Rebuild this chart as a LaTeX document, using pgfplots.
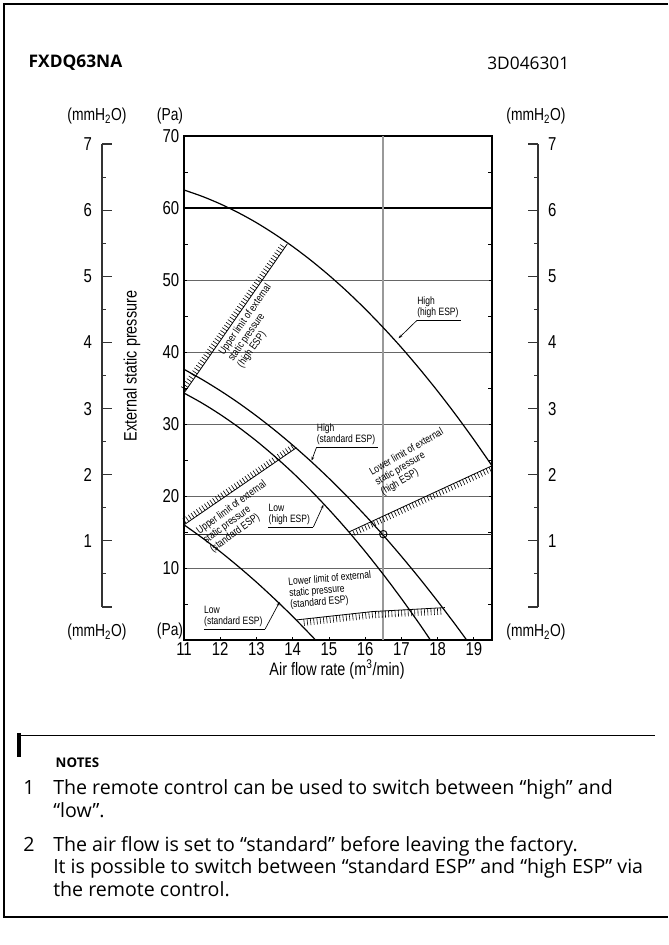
\documentclass[border=0pt]{standalone}
\usepackage{fontspec}
\setmainfont{Open Sans}
\newfontfamily\cond[FakeStretch=0.8]{Liberation Sans}
\usepackage{pgfplots}
\pgfplotsset{compat=1.18}
\usetikzlibrary{arrows.meta}
\tikzset{
 hatch/.style={black,line width=4.2pt,dash pattern=on 0.45pt off 2pt},
 small/.style={font=\cond\fontsize{8}{8.5}\selectfont,inner sep=0pt},
 call/.style={-{Stealth[length=3pt,width=2pt]},line width=0.5pt}
}
\begin{document}
\begin{tikzpicture}[x=0.75pt,y=-0.75pt]
\useasboundingbox (0,0) rectangle (668,945);
\draw[line width=1.1pt] (668,4) -- (4,4) -- (4,917) -- (668,917);

\node[anchor=west,font=\bfseries\fontsize{13}{15}\selectfont] at (24,63) {FXDQ63NA};
\node[anchor=east,font=\fontsize{13}{15}\selectfont] at (574,63) {3D046301};

% left mmH2O scale
\begin{axis}[at={(76.5pt,-455.25pt)},anchor=south west,scale only axis,width=1pt,height=347.25pt,
  xmin=0,xmax=1,ymin=0,ymax=7,hide x axis,axis y line*=left,
  ytick={0,...,7},yticklabels={{},1,2,3,4,5,6,7},minor ytick={0.5,1.5,...,6.5},
  tick align=inside,major tick length=7.5pt,minor tick length=3pt,
  axis line style={black!80,line width=0.8pt},tick style={black!80,line width=0.8pt},
  tick label style={font=\cond\fontsize{14}{14}\selectfont},
  yticklabel style={xshift=-4pt}]
\addplot[draw=none] coordinates {(0,0)};
\end{axis}
% right mmH2O scale
\begin{axis}[at={(403.5pt,-455.25pt)},anchor=south east,scale only axis,width=1pt,height=347.25pt,
  xmin=0,xmax=1,ymin=0,ymax=7,hide x axis,axis y line*=right,
  ytick={0,...,7},yticklabels={{},1,2,3,4,5,6,7},minor ytick={0.5,1.5,...,6.5},
  tick align=inside,major tick length=7.5pt,minor tick length=3pt,
  axis line style={black!80,line width=0.8pt},tick style={black!80,line width=0.8pt},
  tick label style={font=\cond\fontsize{14}{14}\selectfont},
  yticklabel style={xshift=4pt}]
\addplot[draw=none] coordinates {(0,0)};
\end{axis}

% main chart
\begin{axis}[at={(138pt,-480pt)},anchor=south west,scale only axis,width=231pt,height=378pt,
  xmin=11,xmax=19.5,ymin=0,ymax=70,clip=false,
  xtick={11,...,19},xtick pos=bottom,
  ytick={0,10,...,70},yticklabels={{},10,20,30,40,50,60,70},yticklabel pos=left,
  minor ytick={5,15,...,65},
  tick align=inside,major tick length=2.5pt,minor tick length=3pt,
  tick style={black,line width=0.6pt},
  axis line style={black,line width=1pt},
  ymajorgrids,grid style={black!60,line width=0.6pt},
  tick label style={font=\cond\fontsize{14}{14}\selectfont},
  xticklabel style={yshift=1.5pt},
  /pgf/number format/assume math mode=true]

\addplot[black,line width=0.9pt] coordinates {(11,60) (19.5,60)};
\addplot[black!85,line width=0.6pt] coordinates {(11,14.7) (19.5,14.7)};
\addplot[black!40,line width=1.3pt] coordinates {(16.5,0) (16.5,70)};

% High (high ESP)
\addplot[black,line width=0.9pt,smooth] coordinates {
(11,62.5) (11.5,61.62) (12,60.57) (12.5,59.35) (13,57.96) (13.5,56.38) (14,54.65)
(14.5,52.74) (15,50.66) (15.5,48.41) (16,45.98) (16.5,43.38) (17,40.62) (17.5,37.67)
(18,34.56) (18.5,31.28) (19,27.82) (19.5,24.2)};
% High (standard ESP)
\addplot[black,line width=0.9pt,smooth] coordinates {
(11,37.6) (11.5,36.18) (12,34.63) (12.5,32.95) (13,31.12) (13.5,29.16) (14,27.06)
(14.5,24.83) (15,22.46) (15.5,19.95) (16,17.31) (16.5,14.54) (17,11.62) (17.5,8.57)
(18,5.38) (18.5,2.06) (18.8,0)};
% Low (high ESP)
\addplot[black,line width=0.9pt,smooth] coordinates {
(11,34.3) (11.5,32.90) (12,31.32) (12.5,29.57) (13,27.64) (13.5,25.52) (14,23.24)
(14.5,20.77) (15,18.12) (15.5,15.30) (16,12.29) (16.5,9.11) (17,5.75) (17.5,2.22) (17.8,0)};
% Low (standard ESP)
\addplot[black,line width=0.9pt,smooth] coordinates {
(11,16.0) (11.5,14.2) (12,12.27) (12.5,10.21) (13,8.03) (13.5,5.71) (14,3.27) (14.5,0.69) (14.63,0)};

% limit lines
\addplot[black,line width=0.6pt] coordinates {(11,34.3) (13.85,55.0)};
\addplot[black,line width=0.6pt] coordinates {(11,16.0) (14.1,26.7)};
\addplot[black,line width=0.6pt] coordinates {(15.55,15.0) (19.5,24.2)};
\addplot[black,line width=0.6pt] coordinates {(14.12,2.8) (16.2,3.95) (18.2,4.5)};
% hatching on the limit lines
\addplot[hatch,transform canvas={xshift=-1.81pt,yshift=1.25pt}] coordinates {(11.05,34.7) (13.8,54.6)};
\addplot[hatch,transform canvas={xshift=-1.24pt,yshift=1.82pt}] coordinates {(11.05,16.2) (14.05,26.5)};
\addplot[hatch,transform canvas={xshift=0.92pt,yshift=-2.0pt}] coordinates {(15.65,15.2) (19.45,24.1)};
\addplot[hatch,line width=5pt,transform canvas={xshift=0.2pt,yshift=-2.5pt}] coordinates {(14.3,2.9) (16.2,3.95) (18.1,4.45)};

% rated point
\addplot[only marks,mark=o,mark size=2.8pt,mark options={line width=0.7pt}] coordinates {(16.5,14.7)};

% limit labels
\node[small,align=left,rotate=55] at (axis cs:12.95,43.6) {Upper limit of external\\static pressure\\(high ESP)};
\node[small,align=left,rotate=36] at (axis cs:12.5,17.1) {Upper limit of external\\static pressure\\(standard ESP)};
\node[small,align=left,rotate=30] at (axis cs:17.3,24.7) {Lower limit of external\\static pressure\\(high ESP)};
\node[small,align=left,rotate=5] at (axis cs:15.05,6.9) {Lower limit of external\\static pressure\\(standard ESP)};

% callouts
\node[small,align=left,anchor=south west,yshift=1.5pt] at (axis cs:17.43,44.4) {High\\(high ESP)};
\draw[line width=0.5pt] (axis cs:17.43,44.4) -- (axis cs:18.65,44.4);
\draw[call] (axis cs:17.43,44.4) -- (axis cs:16.92,41.9);

\node[small,align=left,anchor=south west,yshift=1.5pt] at (axis cs:14.66,26.8) {High\\(standard ESP)};
\draw[line width=0.5pt] (axis cs:14.66,26.8) -- (axis cs:16.35,26.8);
\draw[call] (axis cs:14.66,26.8) -- (axis cs:14.52,24.9);

\node[small,align=left,anchor=south west,yshift=1.5pt] at (axis cs:13.33,15.7) {Low\\(high ESP)};
\draw[line width=0.5pt] (axis cs:13.33,15.7) -- (axis cs:14.57,15.7);
\draw[call] (axis cs:14.57,15.7) -- (axis cs:14.85,18.8);

\node[small,align=left,anchor=south west,yshift=1.5pt] at (axis cs:11.55,1.53) {Low\\(standard ESP)};
\draw[line width=0.5pt] (axis cs:11.55,1.53) -- (axis cs:13.24,1.53);
\draw[call] (axis cs:13.24,1.53) -- (axis cs:13.64,5.3);
\end{axis}

% axis texts
\node[font=\cond\fontsize{13}{13}\selectfont] at (170,116) {(Pa)};
\node[font=\cond\fontsize{13}{13}\selectfont] at (170,631) {(Pa)};
\node[font=\cond\fontsize{13}{13}\selectfont] at (97,116) {(mmH\textsubscript{2}O)};
\node[font=\cond\fontsize{13}{13}\selectfont] at (97,632) {(mmH\textsubscript{2}O)};
\node[font=\cond\fontsize{13}{13}\selectfont] at (536,116) {(mmH\textsubscript{2}O)};
\node[font=\cond\fontsize{13}{13}\selectfont] at (536,632) {(mmH\textsubscript{2}O)};
\node[font=\cond\fontsize{13.5}{13}\selectfont,rotate=90] at (132,366) {External static pressure};
\node[font=\cond\fontsize{13.5}{13}\selectfont] at (337,669) {Air flow rate (m\textsuperscript{3}/min)};

% notes
\fill (17,733) rectangle (21,757);
\draw[line width=0.6pt] (21,735) -- (655,735);
\node[anchor=west,font=\bfseries\fontsize{10}{11}\selectfont] at (51,763) {NOTES};
\begin{scope}[every node/.style={anchor=base west,font=\fontsize{14.7}{17}\selectfont,inner sep=0pt}]
\node at (23,794) {1};
\node at (53,794) {The remote control can be used to switch between “high” and};
\node at (53,817) {“low”.};
\node at (23,851) {2};
\node at (53,851) {The air flow is set to “standard” before leaving the factory.};
\node at (53,873) {It is possible to switch between “standard ESP” and “high ESP” via};
\node at (53,896) {the remote control.};
\end{scope}
\end{tikzpicture}
\end{document}
